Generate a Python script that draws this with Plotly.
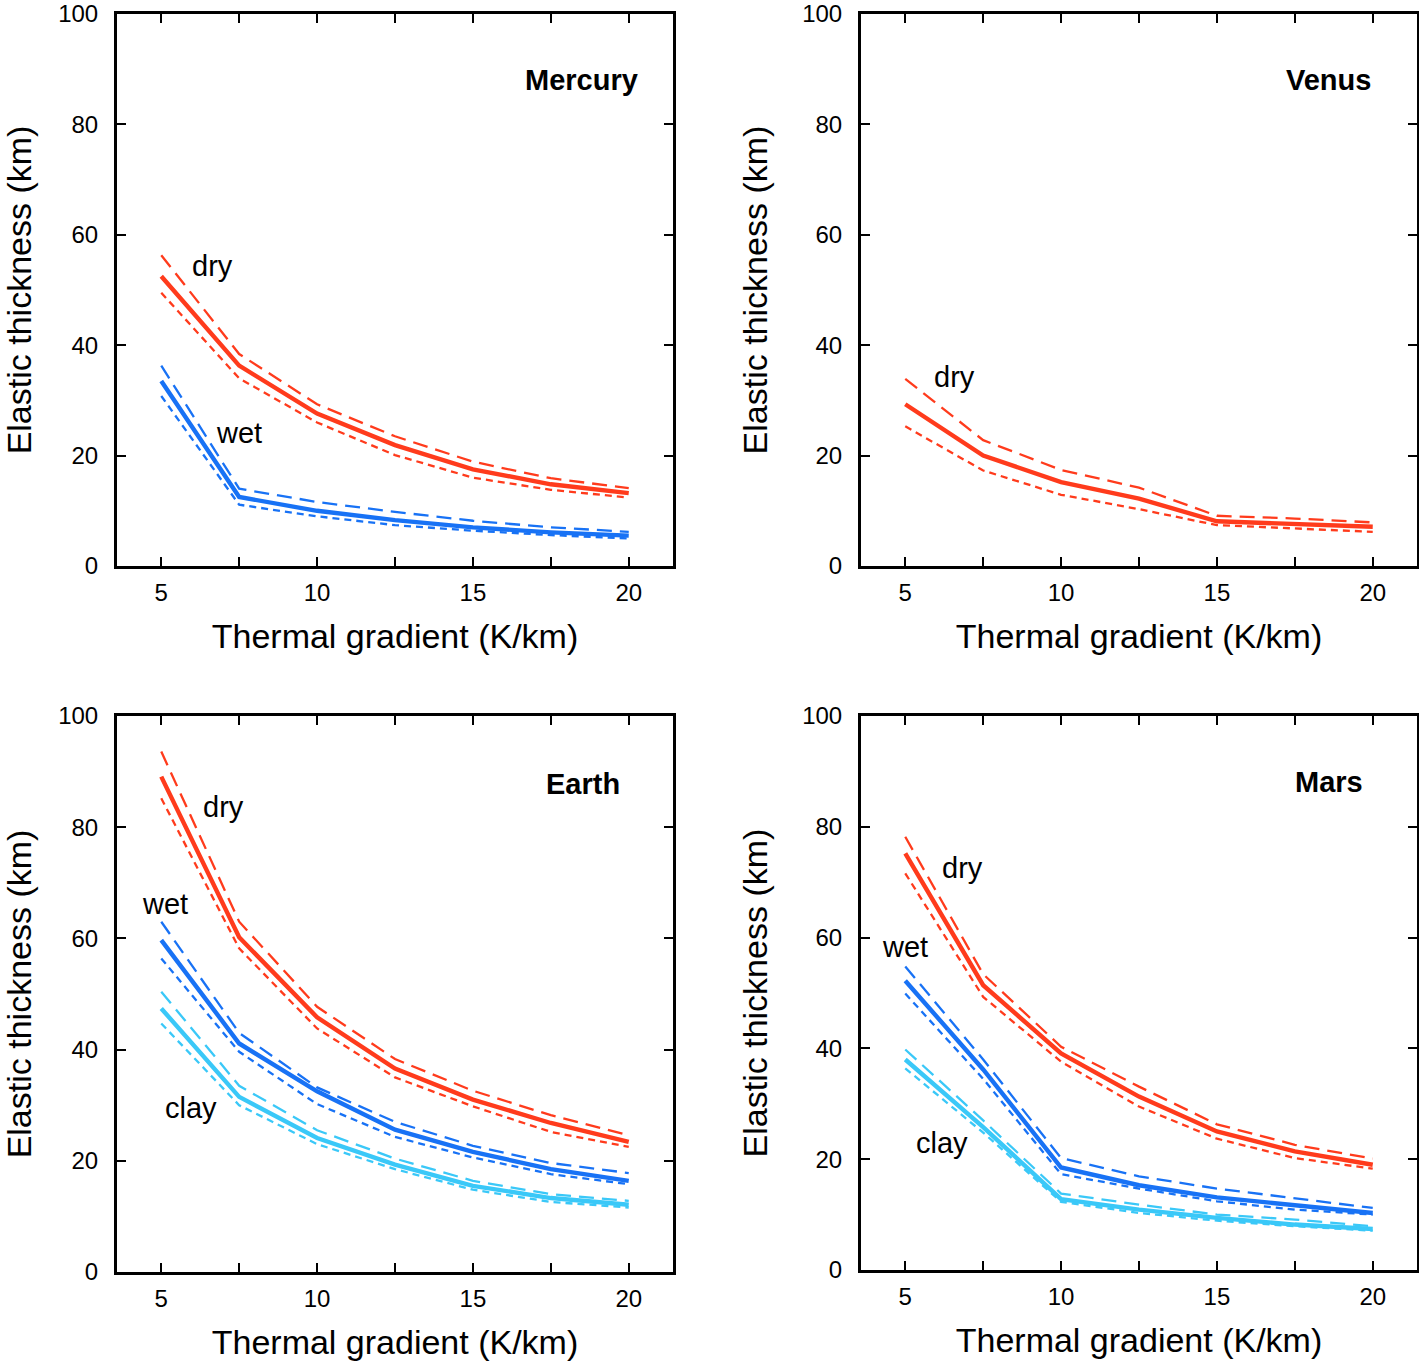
import plotly.graph_objects as go

# ---------------- data ----------------
gradient = [5, 7.5, 10, 12.5, 15, 17.5, 20]

# Mercury
mercury_dry = [52.5, 36.3, 27.6, 21.9, 17.5, 14.8, 13.2]
mercury_dry_hi = [56.3, 38.4, 29.3, 23.5, 18.9, 15.9, 14.1]
mercury_dry_lo = [49.5, 34.0, 26.0, 20.1, 16.0, 13.8, 12.4]
mercury_wet = [33.5, 12.5, 10.0, 8.3, 7.0, 6.1, 5.5]
mercury_wet_hi = [36.3, 14.0, 11.6, 9.8, 8.2, 7.0, 6.2]
mercury_wet_lo = [30.8, 11.1, 9.0, 7.4, 6.4, 5.6, 5.0]

# Venus
venus_dry = [29.3, 20.0, 15.2, 12.2, 8.1, 7.6, 7.1]
venus_dry_hi = [33.9, 22.8, 17.4, 14.2, 9.1, 8.6, 7.9]
venus_dry_lo = [25.3, 17.3, 12.9, 10.3, 7.4, 6.8, 6.2]

# Earth
earth_dry = [89.1, 60.2, 45.8, 36.6, 31.0, 26.8, 23.4]
earth_dry_hi = [93.6, 63.0, 47.7, 38.3, 32.6, 28.2, 24.6]
earth_dry_lo = [85.2, 58.2, 43.8, 35.0, 29.8, 25.2, 22.5]
earth_wet = [59.7, 41.1, 32.5, 25.6, 21.6, 18.5, 16.4]
earth_wet_hi = [63.0, 43.0, 33.2, 27.0, 22.7, 19.6, 17.8]
earth_wet_lo = [56.4, 39.6, 30.2, 24.3, 20.6, 17.6, 15.8]
earth_clay = [47.4, 31.5, 24.1, 19.3, 15.5, 13.3, 12.1]
earth_clay_hi = [50.4, 33.5, 25.5, 20.4, 16.4, 14.0, 12.8]
earth_clay_lo = [44.7, 30.0, 23.0, 18.5, 14.8, 12.6, 11.6]

# Mars
mars_dry = [75.2, 51.4, 39.1, 31.3, 25.0, 21.4, 19.0]
mars_dry_hi = [78.2, 53.4, 40.3, 33.1, 26.3, 22.6, 20.1]
mars_dry_lo = [71.6, 49.3, 37.6, 29.5, 23.7, 20.2, 18.3]
mars_wet = [52.2, 36.2, 18.5, 15.3, 13.1, 11.7, 10.3]
mars_wet_hi = [54.8, 38.0, 20.2, 16.9, 14.7, 12.9, 11.2]
mars_wet_lo = [49.9, 34.5, 17.3, 14.7, 12.4, 10.9, 10.0]
mars_clay = [38.0, 25.8, 12.8, 10.9, 9.4, 8.2, 7.4]
mars_clay_hi = [39.8, 27.0, 13.8, 11.8, 10.0, 9.1, 7.9]
mars_clay_lo = [36.4, 24.8, 12.3, 10.3, 8.9, 7.9, 7.1]

x_tickvals = [5, 7.5, 10, 12.5, 15, 17.5, 20]
x_ticktext = ["5", "", "10", "", "15", "", "20"]
y_tickvals = [0, 20, 40, 60, 80, 100]

RED = "rgb(255,59,28)"
BLUE = "rgb(24,114,245)"
CLAY = "rgb(58,200,248)"

panels = [
    ("Mercury", [(mercury_dry, mercury_dry_hi, mercury_dry_lo, RED),
                 (mercury_wet, mercury_wet_hi, mercury_wet_lo, BLUE)]),
    ("Venus", [(venus_dry, venus_dry_hi, venus_dry_lo, RED)]),
    ("Earth", [(earth_dry, earth_dry_hi, earth_dry_lo, RED),
               (earth_wet, earth_wet_hi, earth_wet_lo, BLUE),
               (earth_clay, earth_clay_hi, earth_clay_lo, CLAY)]),
    ("Mars", [(mars_dry, mars_dry_hi, mars_dry_lo, RED),
              (mars_wet, mars_wet_hi, mars_wet_lo, BLUE),
              (mars_clay, mars_clay_hi, mars_clay_lo, CLAY)]),
]

W, H = 1419, 1367
# plot-area pixel boxes (left, right, top, bottom)
boxes = [(117, 673, 14, 566), (861, 1417, 14, 566),
         (117, 673, 716, 1272), (861, 1417, 716, 1270)]

FONT = "Liberation Sans, Arial, Helvetica, sans-serif"

fig = go.Figure()
layout = dict(
    width=W, height=H,
    margin=dict(l=0, r=0, t=0, b=0, autoexpand=False),
    paper_bgcolor="white", plot_bgcolor="white",
    showlegend=False,
    font=dict(family=FONT, color="black"),
)
annotations = []

for i, ((name, series), (l, r, t, b)) in enumerate(zip(panels, boxes)):
    n = i + 1
    xa = "x" if n == 1 else f"x{n}"
    ya = "y" if n == 1 else f"y{n}"
    for main, hi, lo, col in series:
        fig.add_trace(go.Scatter(x=gradient, y=hi, mode="lines", xaxis=xa, yaxis=ya,
                                 line=dict(color=col, width=2.3, dash="15px,8px")))
        fig.add_trace(go.Scatter(x=gradient, y=lo, mode="lines", xaxis=xa, yaxis=ya,
                                 line=dict(color=col, width=2.3, dash="7px,5px")))
        fig.add_trace(go.Scatter(x=gradient, y=main, mode="lines", xaxis=xa, yaxis=ya,
                                 line=dict(color=col, width=4.4)))
    axkey = "xaxis" if n == 1 else f"xaxis{n}"
    aykey = "yaxis" if n == 1 else f"yaxis{n}"
    layout[axkey] = dict(
        domain=[l / W, r / W], anchor=ya, range=[3.58, 21.42], automargin=False,
        tickvals=x_tickvals, ticktext=x_ticktext, ticks="inside", ticklen=9,
        tickwidth=2, tickcolor="black", showline=True, linewidth=3, linecolor="black",
        mirror="ticks", showgrid=False, zeroline=False, ticklabelstandoff=3,
        ticklabeloverflow="allow",
        tickfont=dict(size=24, family=FONT, color="black"),
        title=dict(text="Thermal gradient (K/km)", font=dict(size=34, family=FONT), standoff=20),
    )
    layout[aykey] = dict(
        domain=[1 - b / H, 1 - t / H], anchor=xa, range=[0, 100], automargin=False,
        tickvals=y_tickvals, ticks="inside", ticklen=9,
        tickwidth=2, tickcolor="black", showline=True, linewidth=3, linecolor="black",
        mirror="ticks", showgrid=False, zeroline=False, ticklabelstandoff=11,
        ticklabeloverflow="allow",
        tickfont=dict(size=24, family=FONT, color="black"),
        title=dict(text="Elastic thickness (km)", font=dict(size=34, family=FONT), standoff=25),
    )

labels = [
    # (panel, text, x, y, bold, anchor)
    (1, "Mercury", 20.35, 88.1, True, "right"),
    (1, "dry", 6.63, 54.3, False, "center"),
    (1, "wet", 7.5, 24.1, False, "center"),
    (2, "Venus", 20.0, 88.1, True, "right"),
    (2, "dry", 6.57, 34.2, False, "center"),
    (3, "Earth", 19.78, 87.8, True, "right"),
    (3, "dry", 6.99, 83.6, False, "center"),
    (3, "wet", 5.13, 66.2, False, "center"),
    (3, "clay", 5.96, 29.5, False, "center"),
    (4, "Mars", 19.74, 88.1, True, "right"),
    (4, "dry", 6.83, 72.6, False, "center"),
    (4, "wet", 5.0, 58.3, False, "center"),
    (4, "clay", 6.19, 22.9, False, "center"),
]
for n, txt, x, y, bold, anc in labels:
    annotations.append(dict(
        xref="x" if n == 1 else f"x{n}", yref="y" if n == 1 else f"y{n}",
        x=x, y=y, text=f"<b>{txt}</b>" if bold else txt, showarrow=False,
        xanchor=anc, yanchor="middle",
        font=dict(size=29, family=FONT, color="black")))

layout["annotations"] = annotations
fig.update_layout(**layout)
fig.write_html(
    "out.html",
    config={"displayModeBar": False},
    post_script="document.body.style.margin='0';document.body.style.overflow='hidden';",
)
